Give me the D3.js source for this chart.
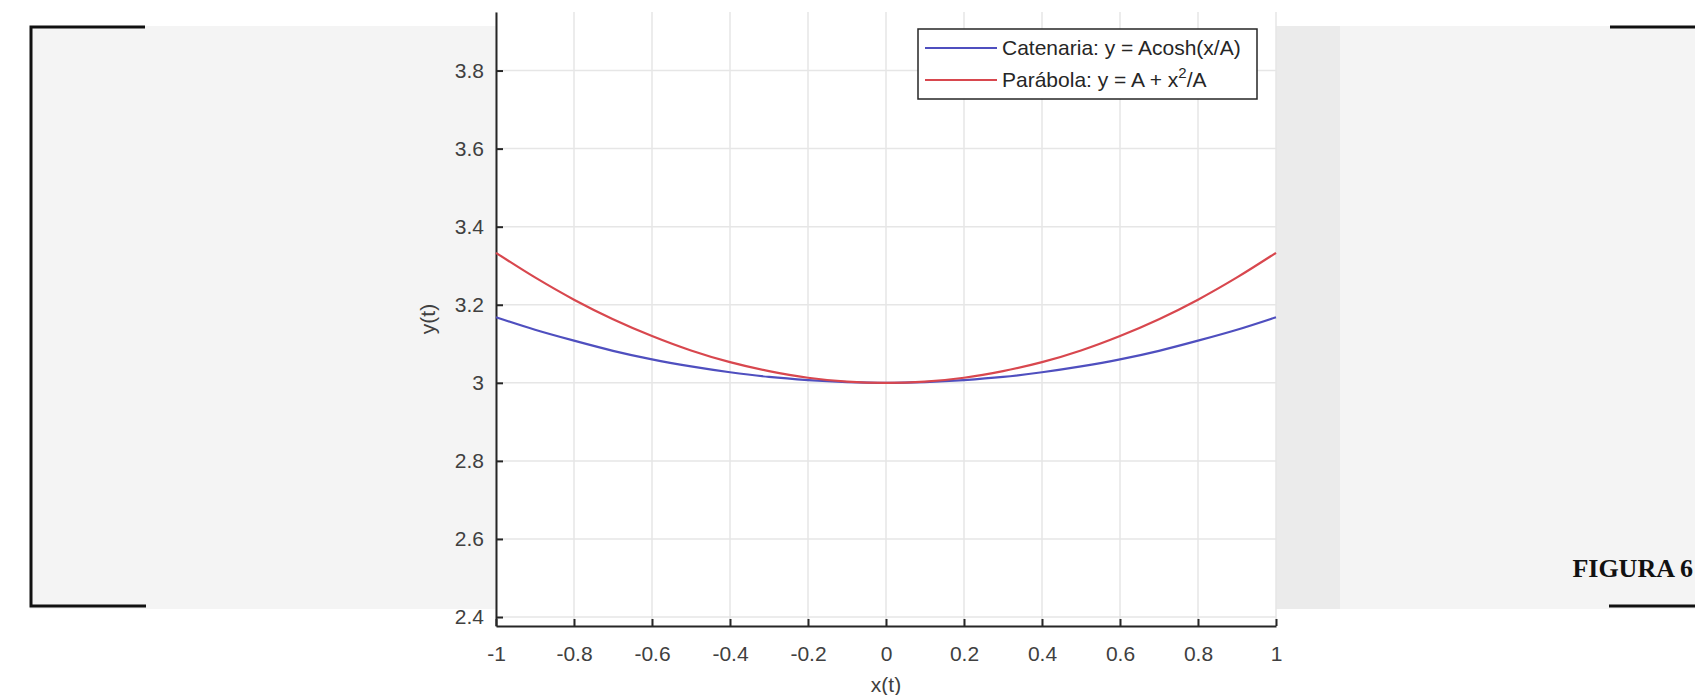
<!DOCTYPE html>
<html>
<head>
<meta charset="utf-8">
<script src="https://cdn.jsdelivr.net/npm/d3@7"></script>
<style>
  body { margin: 0; background: white; }
  svg { display: block; }
  text { font-family: "Liberation Sans", Arial, sans-serif; }
</style>
</head>
<body>
<svg id="chart"></svg>
<script>
//Data
var xValues = [-1, -0.9, -0.8, -0.7, -0.6, -0.5, -0.4, -0.3, -0.2, -0.1, 0, 0.1, 0.2, 0.3, 0.4, 0.5, 0.6, 0.7, 0.8, 0.9, 1];
var catenaria = [3.168, 3.136, 3.108, 3.082, 3.060, 3.042, 3.027, 3.015, 3.007, 3.002, 3.000, 3.002, 3.007, 3.015, 3.027, 3.042, 3.060, 3.082, 3.108, 3.136, 3.168];
var parabola = [3.333, 3.270, 3.213, 3.163, 3.120, 3.083, 3.053, 3.030, 3.013, 3.003, 3.000, 3.003, 3.013, 3.030, 3.053, 3.083, 3.120, 3.163, 3.213, 3.270, 3.333];
var xTicks = [-1, -0.8, -0.6, -0.4, -0.2, 0, 0.2, 0.4, 0.6, 0.8, 1];
var yTicks = [2.4, 2.6, 2.8, 3, 3.2, 3.4, 3.6, 3.8];
var legendLabels = ["Catenaria: y = Acosh(x/A)", "Parábola: y = A + x"];

//Page size
var svgWidth = 1695;
var svgHeight = 695;

//Define colors
var colors = {
    "page": "#f4f4f4",
    "band": "#ebebeb",
    "axis": "#262626",
    "label": "#404040",
    "grid": "#e6e6e6",
    "blue": "#4f4fbf",
    "red": "#d8474e"
};

var svg = d3.select("#chart")
    .attr("width", svgWidth)
    .attr("height", svgHeight);

//Gray page background and brackets
svg.append("rect")
    .attr("x", 30).attr("y", 26)
    .attr("width", svgWidth - 30).attr("height", 583)
    .attr("fill", colors.page);

svg.append("rect")
    .attr("x", 1276).attr("y", 26)
    .attr("width", 64).attr("height", 583)
    .attr("fill", colors.band);

svg.append("path")
    .attr("d", "M145,27 H31 V606 H146")
    .attr("fill", "none").attr("stroke", "#111").attr("stroke-width", 3);
svg.append("path")
    .attr("d", "M1610,27 H1695 M1609,606 H1695")
    .attr("fill", "none").attr("stroke", "#111").attr("stroke-width", 3);

svg.append("text")
    .attr("x", 1693).attr("y", 577)
    .attr("text-anchor", "end")
    .style("font-family", "'Liberation Serif', 'Times New Roman', serif")
    .style("font-weight", "bold")
    .style("font-size", "26px")
    .attr("fill", "#111")
    .text("FIGURA 6");

//Scales
var x = d3.scaleLinear().domain([-1, 1]).range([496, 1276]);
var y = d3.scaleLinear().domain([2.377, 3.95]).range([626, 12]);

//White plot area
svg.append("rect")
    .attr("x", x(-1)).attr("y", y(3.95))
    .attr("width", x(1) - x(-1)).attr("height", y(2.377) - y(3.95))
    .attr("fill", "white");

//Grid
svg.append("g").selectAll("line")
    .data(xTicks)
    .enter().append("line")
    .attr("x1", function(d) {return x(d);}).attr("x2", function(d) {return x(d);})
    .attr("y1", y(3.95)).attr("y2", y(2.377))
    .attr("stroke", colors.grid).attr("stroke-width", 1.5);

svg.append("g").selectAll("line")
    .data(yTicks)
    .enter().append("line")
    .attr("x1", x(-1)).attr("x2", x(1))
    .attr("y1", function(d) {return y(d);}).attr("y2", function(d) {return y(d);})
    .attr("stroke", colors.grid).attr("stroke-width", 1.5);

//Axes with inward ticks, plain hyphen for negatives like matlab
var xAxis = svg.append("g")
    .attr("transform", "translate(0," + y(2.377) + ")")
    .call(d3.axisBottom(x).tickValues(xTicks).tickSizeInner(-7).tickSizeOuter(0).tickPadding(20)
        .tickFormat(function(d) {return String(d);}));

var yAxis = svg.append("g")
    .attr("transform", "translate(" + x(-1) + ",0)")
    .call(d3.axisLeft(y).tickValues(yTicks).tickSizeInner(-7).tickSizeOuter(0).tickPadding(12)
        .tickFormat(function(d) {return String(d);}));

[xAxis, yAxis].forEach(function(ax) {
    ax.select(".domain").attr("stroke", colors.axis).attr("stroke-width", 2);
    ax.selectAll(".tick line").attr("stroke", colors.axis).attr("stroke-width", 2);
    ax.selectAll(".tick text")
        .attr("fill", colors.label)
        .style("font-family", "'Liberation Sans', Arial, sans-serif")
        .style("font-size", "21px");
});
xAxis.selectAll(".tick text").attr("dy", "0.71em");

//Axis labels
svg.append("text")
    .attr("x", 886).attr("y", 692)
    .attr("text-anchor", "middle")
    .attr("fill", colors.label)
    .style("font-size", "21px")
    .text("x(t)");

svg.append("text")
    .attr("transform", "translate(435,319) rotate(-90)")
    .attr("text-anchor", "middle")
    .attr("fill", colors.label)
    .style("font-size", "21px")
    .text("y(t)");

//Curves
var line = d3.line()
    .x(function(d, i) {return x(xValues[i]);})
    .y(function(d) {return y(d);})
    .curve(d3.curveMonotoneX);

svg.append("path")
    .datum(catenaria)
    .attr("d", line)
    .attr("fill", "none").attr("stroke", colors.blue).attr("stroke-width", 2.2);

svg.append("path")
    .datum(parabola)
    .attr("d", line)
    .attr("fill", "none").attr("stroke", colors.red).attr("stroke-width", 2.2);

//Legend
var legend = svg.append("g");
legend.append("rect")
    .attr("x", 918).attr("y", 29)
    .attr("width", 339).attr("height", 70)
    .attr("fill", "white").attr("stroke", colors.axis).attr("stroke-width", 1.5);

var legendColors = [colors.blue, colors.red];
var legendY = [48, 80];
legendLabels.forEach(function(label, i) {
    legend.append("line")
        .attr("x1", 925).attr("x2", 997)
        .attr("y1", legendY[i]).attr("y2", legendY[i])
        .attr("stroke", legendColors[i]).attr("stroke-width", 2);
    var t = legend.append("text")
        .attr("x", 1002).attr("y", legendY[i] + 7)
        .attr("fill", colors.axis)
        .style("font-size", "21px")
        .text(label);
    if (i == 1) {
        t.append("tspan").attr("dy", -9).style("font-size", "15px").text("2");
        t.append("tspan").attr("dy", 9).text("/A");
    }
});
</script>
</body>
</html>
